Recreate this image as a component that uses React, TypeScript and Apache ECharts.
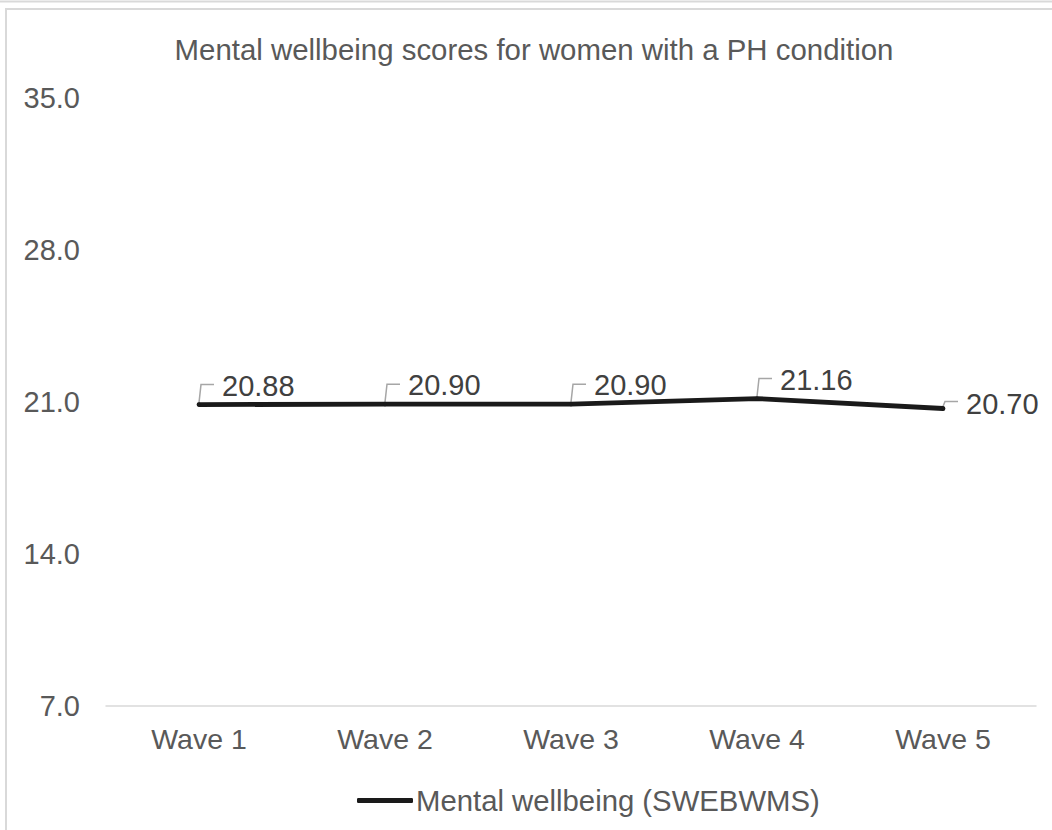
import React, { useEffect, useRef } from "react";
import * as echarts from "echarts";

// Mental wellbeing (SWEBWMS) mean scores by survey wave
const waves = ["Wave 1", "Wave 2", "Wave 3", "Wave 4", "Wave 5"];
const wellbeing = [20.88, 20.9, 20.9, 21.16, 20.7];
const seriesName = "Mental wellbeing (SWEBWMS)";
const chartTitle = "Mental wellbeing scores for women with a PH condition";

const FONT = "'Liberation Sans', Arial, sans-serif";

export default function App() {
  const ref = useRef<HTMLDivElement>(null);

  useEffect(() => {
    if (!ref.current) return;
    const chart = echarts.init(ref.current, null, { renderer: "svg" });
    const last = wellbeing.length - 1;

    chart.setOption({
      animation: false,
      backgroundColor: "#ffffff",
      textStyle: { fontFamily: FONT },
      title: {
        text: chartTitle,
        left: 529,
        top: 30,
        textAlign: "center",
        textStyle: { fontFamily: FONT, fontSize: 29.4, fontWeight: "normal", color: "#595959" },
      },
      legend: {
        left: 352,
        top: 781,
        itemWidth: 56,
        itemHeight: 5,
        data: [{ name: seriesName, icon: "roundRect" }],
        textStyle: { fontFamily: FONT, fontSize: 29.3, color: "#595959", padding: [0, 0, 0, -2] },
      },
      grid: { left: 106, right: 16, top: 98, bottom: 124, containLabel: false },
      xAxis: {
        type: "category",
        data: waves,
        boundaryGap: true,
        axisTick: { show: false },
        axisLine: { lineStyle: { color: "#d9d9d9", width: 1.5 } },
        axisLabel: { fontFamily: FONT, fontSize: 28.5, color: "#595959", margin: 18 },
      },
      yAxis: {
        type: "value",
        min: 7,
        max: 35,
        interval: 7,
        axisLine: { show: false },
        axisTick: { show: false },
        splitLine: { show: false },
        axisLabel: {
          fontFamily: FONT,
          fontSize: 29,
          color: "#595959",
          margin: 26,
          formatter: (v: number) => v.toFixed(1),
        },
      },
      series: [
        {
          // leader lines joining each point to its value label
          type: "custom",
          silent: true,
          z: 1,
          data: wellbeing.map((v, i) => [i, v]),
          renderItem: (params: any, api: any) => {
            const p = api.coord([api.value(0), api.value(1)]);
            const rise = params.dataIndex === last ? 7 : 20;
            return {
              type: "polyline",
              shape: {
                points: [
                  [p[0], p[1] - 2],
                  [p[0] + 2, p[1] - rise],
                  [p[0] + 15, p[1] - rise],
                ],
              },
              style: { stroke: "#a6a6a6", lineWidth: 1.5, fill: null },
            };
          },
        },
        {
          name: seriesName,
          type: "line",
          z: 3,
          data: wellbeing.map((v, i) =>
            i === last ? { value: v, label: { offset: [0, -5] } } : v
          ),
          symbol: "circle",
          symbolSize: 4,
          itemStyle: { color: "#1a1a1a" },
          lineStyle: { color: "#1a1a1a", width: 4.8, cap: "round", join: "round" },
          label: {
            show: true,
            position: "right",
            distance: 21,
            offset: [0, -19],
            fontFamily: FONT,
            fontSize: 29,
            color: "#404040",
            formatter: (p: any) => Number(p.value).toFixed(2),
          },
        },
      ],
      graphic: [
        { type: "line", silent: true, shape: { x1: 0, y1: 1.5, x2: 1052, y2: 1.5 }, style: { stroke: "#d9d9d9", lineWidth: 2 } },
        { type: "line", silent: true, shape: { x1: 5, y1: 9, x2: 1052, y2: 9 }, style: { stroke: "#d9d9d9", lineWidth: 2 } },
        { type: "line", silent: true, shape: { x1: 6, y1: 9, x2: 6, y2: 830 }, style: { stroke: "#d9d9d9", lineWidth: 2 } },
      ],
    });

    return () => chart.dispose();
  }, []);

  return (
    <div
      ref={ref}
      style={{ position: "absolute", left: 0, top: 0, width: 1052, height: 830 }}
    />
  );
}
